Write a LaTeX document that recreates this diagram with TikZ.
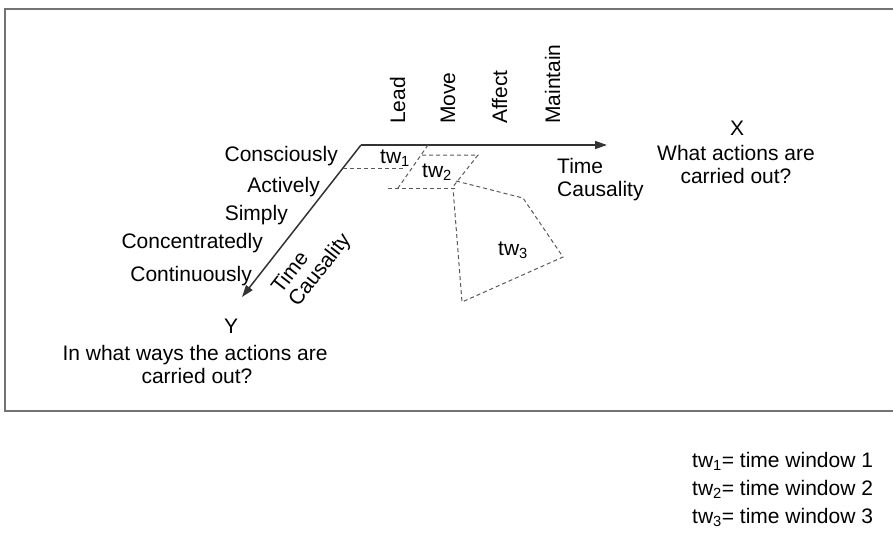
\documentclass[tikz,border=0pt]{standalone}
\usepackage{fontspec}
\setmainfont{Liberation Sans}
\usetikzlibrary{arrows.meta}
\begin{document}
\begin{tikzpicture}[
    x=1pt, y=-1pt,
    every node/.style={inner sep=0pt,font=\fontsize{21}{25}\selectfont},
    axisline/.style={draw=black!80,line width=1.5pt,-{Triangle[length=12pt,width=8pt]}},
    winline/.style={draw=black!65,line width=1pt,dash pattern=on 4pt off 3pt}]
    \useasboundingbox (0,0) rectangle (893,538);
    \draw[black!55,line width=2pt] (5,9) rectangle (900,411);
    \coordinate (o) at (361,145);
    \coordinate (xend) at (607,145);
    \coordinate (yend) at (242,297);
    \draw[axisline] (o) -- (xend);
    \draw[axisline] (o) -- (yend);
    \draw[winline] (343,168) -- (405,168);
    \draw[winline] (428,145) -- (398,188);
    \draw[winline] (388,188) -- (455,188);
    \draw[winline] (422,155) -- (478,155) -- (452,188);
    \draw[winline] (456,181) -- (523,198) -- (563,257) -- (462,302) -- (453,188);
    \node[anchor=base west] (tw1) at (380,163) {tw\textsubscript{1}};
    \node[anchor=base west] (tw2) at (422,177) {tw\textsubscript{2}};
    \node[anchor=base west] (tw3) at (498,255) {tw\textsubscript{3}};
    \node[rotate=90,anchor=base west] (lead) at (405,124) {Lead};
    \node[rotate=90,anchor=base west] (move) at (455,124) {Move};
    \node[rotate=90,anchor=base west] (affect) at (507,124) {Affect};
    \node[rotate=90,anchor=base west] (maintain) at (560,124) {Maintain};
    \node[anchor=base east] (consc) at (338,161) {Consciously};
    \node[anchor=base east] (activ) at (320,192) {Actively};
    \node[anchor=base east] (simpl) at (288,220) {Simply};
    \node[anchor=base east] (concen) at (263,248) {Concentratedly};
    \node[anchor=base east] (contin) at (252,281) {Continuously};
    \node[rotate=52,anchor=base west] (ytime) at (281,295) {Time};
    \node[rotate=52,anchor=base west] (ycaus) at (298,308) {Causality};
    \node[anchor=base west] (xtime) at (557,173) {Time};
    \node[anchor=base west] (xcaus) at (557,196) {Causality};
    \node[anchor=base] (xname) at (737,135) {X};
    \node[anchor=base] (xq1) at (736,160) {What actions are};
    \node[anchor=base] (xq2) at (736,183) {carried out?};
    \node[anchor=base] (yname) at (231,333) {Y};
    \node[anchor=base] (yq1) at (195,360) {In what ways the actions are};
    \node[anchor=base] (yq2) at (197,383) {carried out?};
    \node[anchor=base west] (leg1) at (692,467) {tw\textsubscript{1}= time window 1};
    \node[anchor=base west] (leg2) at (692,495) {tw\textsubscript{2}= time window 2};
    \node[anchor=base west] (leg3) at (692,523) {tw\textsubscript{3}= time window 3};
\end{tikzpicture}
\end{document}
